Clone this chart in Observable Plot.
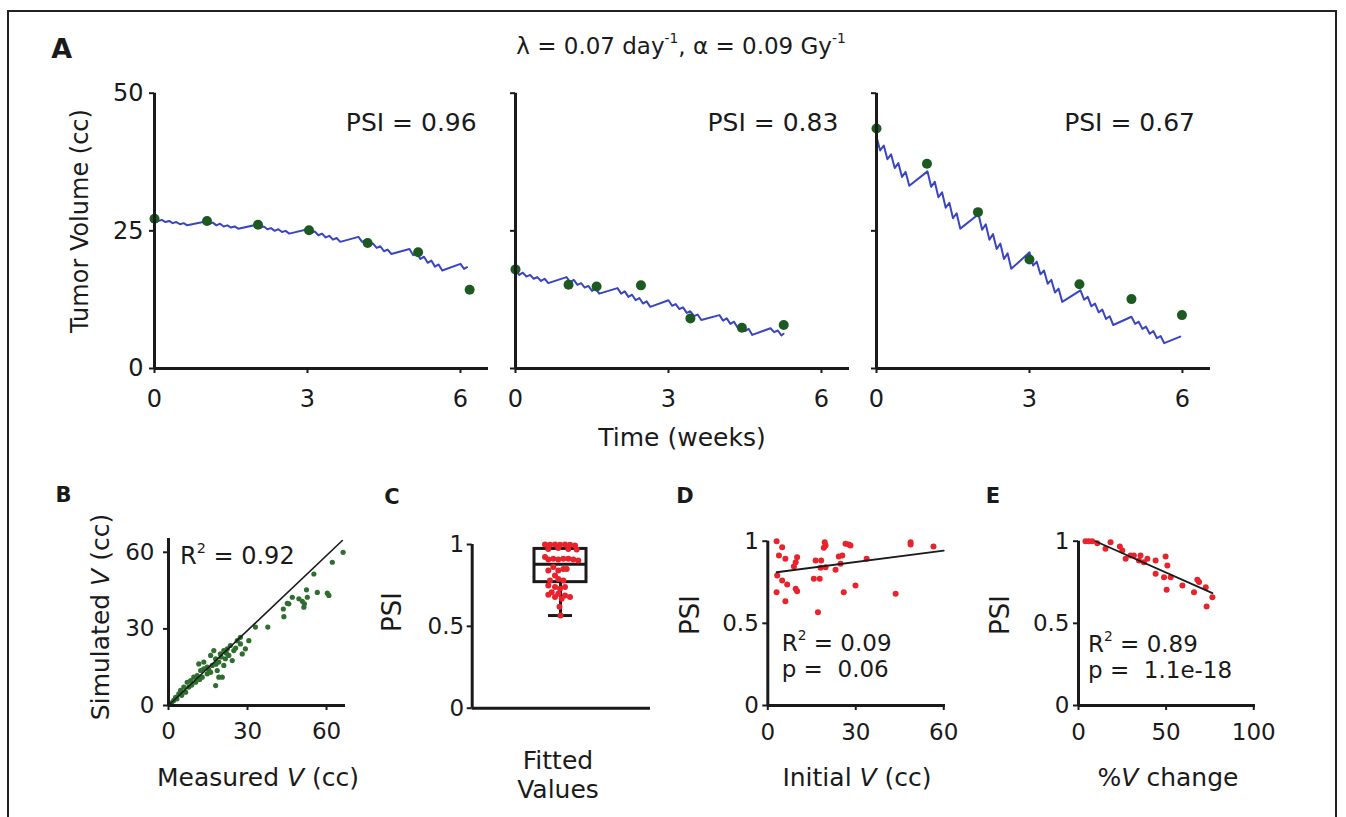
<!DOCTYPE html>
<html><head><meta charset="utf-8">
<script src="https://cdn.jsdelivr.net/npm/d3@7"></script>
<script src="https://cdn.jsdelivr.net/npm/@observablehq/plot@0.6"></script>
<style>
html,body{margin:0;padding:0;background:#fff;overflow:hidden;}
#fig{position:relative;width:1346px;height:817px;overflow:hidden;font-family:"DejaVu Sans",sans-serif;color:#1a1a1a;background:#fff;}
#fig svg{position:absolute;left:0;top:0;}
.lbl{position:absolute;white-space:nowrap;line-height:1;font-size:25px;}
.c{transform:translate(-50%,-50%);}
.l{transform:translate(0,-50%);}
.r{transform:translate(-100%,-50%);}
.rot{transform:translate(-50%,-50%) rotate(-90deg);}
.pl{font-weight:bold;font-size:21px;}
sup{font-size:0.6em;line-height:0;vertical-align:0.75em;}
#border{position:absolute;left:7px;top:10px;width:1326px;height:900px;border:2.5px solid #222;}
</style></head><body><div id="fig"><div id="border"></div></div>
<script>
// ---------- data ----------
const weekTicks = [0, 3, 6];
const volTicks = [0, 25, 50];
const psiTicks = [0, 0.5, 1];
const bTicks = [0, 30, 60];
const dTicks = [0, 30, 60];
const eTicks = [0, 50, 100];
const psiLabels = ["PSI = 0.96", "PSI = 0.83", "PSI = 0.67"];

// measured volumes [weeks, cc]
const a1Measured = [[0,27.2],[1.03,26.8],[2.03,26.1],[3.03,25.1],[4.18,22.8],[5.17,21.1],[6.18,14.3]];
const a2Measured = [[0,18.0],[1.04,15.2],[1.59,14.9],[2.46,15.1],[3.43,9.1],[4.44,7.4],[5.26,7.9]];
const a3Measured = [[0,43.6],[0.99,37.2],[1.99,28.4],[3.0,19.8],[3.98,15.3],[5.0,12.6],[5.99,9.7]];

// simulated volumes: [fraction day, volume before, volume after fraction]
const a1Sim = [
[0,27.2,26.8],[1,27.0,26.6],[2,26.8,26.4],[3,26.6,26.2],[4,26.4,26.0],
[7,26.7,26.3],[8,26.5,26.0],[9,26.3,25.8],[10,26.0,25.6],[11,25.8,25.4],
[14,26.1,25.6],[15,25.8,25.3],[16,25.5,25.0],[17,25.3,24.8],[18,25.0,24.5],
[21,25.3,24.6],[22,24.9,24.2],[23,24.5,23.8],[24,24.1,23.4],[25,23.7,23.0],
[28,23.9,23.0],[29,23.3,22.4],[30,22.7,21.9],[31,22.2,21.3],[32,21.6,20.8],
[35,21.7,20.6],[36,21.0,19.9],[37,20.3,19.2],[38,19.6,18.5],[39,18.9,17.8],
[42,19.0,18.1]];
const a1End = [42.9, 18.4];
const a2Sim = [
[0,17.8,17.0],[1,17.4,16.7],[2,17.0,16.3],[3,16.6,15.9],[4,16.3,15.5],
[7,16.6,15.7],[8,16.1,15.2],[9,15.5,14.7],[10,15.0,14.1],[11,14.5,13.6],
[14,14.6,13.6],[15,14.0,13.0],[16,13.4,12.4],[17,12.8,11.8],[18,12.2,11.2],
[21,12.4,11.4],[22,11.7,10.8],[23,11.1,10.1],[24,10.4,9.5],[25,9.8,8.8],
[28,9.7,8.7],[29,9.1,8.1],[30,8.5,7.4],[31,7.8,6.8],[32,7.2,6.1],
[35,7.3,6.6],[36,6.9,6.0]];
const a2End = [36.8, 6.3];
const a3Sim = [
[0,42.1,39.6],[1,40.5,38.0],[2,38.9,36.4],[3,37.3,34.8],[4,35.7,33.2],
[7,35.8,33.0],[8,33.9,31.1],[9,32.0,29.2],[10,30.1,27.3],[11,28.2,25.4],
[14,28.0,25.2],[15,26.2,23.4],[16,24.4,21.7],[17,22.7,19.9],[18,20.9,18.1],
[21,21.1,18.7],[22,19.4,17.1],[23,17.8,15.4],[24,16.1,13.8],[25,14.5,12.1],
[28,14.2,12.5],[29,13.0,11.3],[30,11.8,10.2],[31,10.7,9.0],[32,9.5,7.9],
[35,9.4,8.1],[36,8.5,7.2],[37,7.6,6.3],[38,6.8,5.5],[39,5.9,4.6]];
const a3End = [41.7, 5.8];

// B: [measured V, simulated V]
const bPoints = [[66.3,60.0],[62.2,56.1],[55.2,51.5],[52.4,45.3],[56.5,44.3],[60.3,44.0],[60.9,43.1],[47.0,42.4],[49.5,41.8],[50.8,40.8],[51.6,39.8],[45.1,40.0],[43.6,37.8],[43.8,34.8],[37.7,30.7],[33.0,30.7],[30.5,25.4],[27.3,24.1],[29.2,22.2],[28.0,20.2],[24.8,21.5],[23.5,23.5],[22.3,22.2],[21.0,21.5],[19.7,20.2],[22.9,19.6],[21.6,18.3],[19.1,17.0],[17.9,18.3],[24.2,17.6],[21.0,15.7],[16.6,15.7],[14.7,15.0],[13.4,14.4],[12.2,13.7],[16.0,13.0],[18.5,13.7],[19.1,11.1],[20.4,11.1],[17.9,7.8],[10.9,11.7],[9.6,11.1],[8.4,9.8],[7.1,9.1],[10.3,9.1],[5.8,7.2],[4.6,5.9],[3.9,4.6],[6.5,5.2],[2.7,3.2],[2.0,2.0],[7.7,7.2],[13.4,17.0],[16.0,19.6],[17.2,21.5],[27.3,26.7],[26.1,25.4],[12.8,11.1],[14.7,12.4],[11.5,16.3],[1.2,1.0],[3.2,2.6],[5.0,4.0],[8.8,8.0],[11.8,10.2],[15.3,14.0],[18.0,16.2],[20.0,19.0],[22.0,20.5],[25.5,22.5],[45.7,39.8],[52.7,42.4],[51.4,38.5]];
const bFit = [[0,0],[66,64.6]];

// C: fitted PSI values [jitter offset, PSI] and box summary
const cPoints = [[-15.5,1.0],[-10.5,0.998],[-5.5,1.0],[-0.5,0.998],[4.5,1.0],[9.5,0.998],[14.5,0.994],[-12.2,0.973],[-2.2,0.978],[7.8,0.973],[16.2,0.970],[-15.5,0.923],[-12.2,0.908],[-7.2,0.913],[-2.2,0.908],[2.8,0.913],[7.8,0.913],[12.8,0.908],[17.8,0.902],[-7.2,0.862],[2.8,0.851],[-12.2,0.841],[-2.2,0.841],[6.2,0.851],[-5.5,0.811],[-10.5,0.780],[-2.2,0.790],[2.8,0.780],[-12.2,0.750],[-5.5,0.740],[-0.5,0.729],[4.5,0.740],[-8.8,0.709],[-2.2,0.699],[4.5,0.689],[-12.2,0.693],[-5.5,0.679],[9.5,0.679],[1.2,0.668],[-1.0,0.62],[0,0.566]];
const cBox = {q1: 0.77, median: 0.88, q3: 0.973, low: 0.566};

// D: [initial V, PSI]
const dPoints = [[3.0,1.0],[4.9,0.963],[3.8,0.913],[6.0,0.893],[10.0,0.903],[9.5,0.872],[8.9,0.846],[3.2,0.791],[4.9,0.761],[6.6,0.736],[3.0,0.690],[9.5,0.710],[10.0,0.696],[6.0,0.635],[17.1,0.568],[16.3,0.883],[18.2,0.883],[18.0,0.838],[19.7,0.842],[15.7,0.771],[17.7,0.771],[19.4,0.994],[19.7,0.974],[19.1,0.960],[23.1,0.826],[24.2,0.907],[25.4,0.913],[24.8,0.862],[26.5,0.984],[27.6,0.980],[28.2,0.974],[25.9,0.690],[29.9,0.730],[33.7,0.893],[43.6,0.680],[48.7,0.994],[48.7,0.980],[56.5,0.968]];
const dFit = [[3,0.811],[60,0.943]];

// E: [% V change, PSI]
const ePoints = [[4.0,1.0],[5.9,1.0],[7.8,1.0],[10.7,0.988],[15.4,0.954],[18.3,0.994],[23.6,0.968],[25.0,0.943],[26.9,0.893],[31.6,0.913],[34.5,0.883],[35.4,0.913],[37.3,0.872],[39.3,0.893],[44.0,0.883],[44.0,0.802],[49.7,0.907],[50.7,0.852],[48.8,0.781],[52.6,0.781],[50.3,0.704],[59.3,0.730],[65.9,0.690],[67.8,0.765],[68.8,0.751],[72.6,0.720],[76.4,0.659],[73.1,0.603],[29.7,0.913]];
const eFit = [[9.7,1.0],[76.4,0.684]];

// ---------- drawing ----------
const W = 1346, H = 817;
const BLUE = "#3a45c2", DGREEN = "#1d5a22", GREEN = "#2f6e2f", RED = "#e8232b", INK = "#1a1a1a";
const fig = document.getElementById("fig");
const plain = d => String(d);
const none = () => "";

function frame({x0, x1, yb, yt, xDomain, yDomain, xTicks, yTicks, xFormat = plain, yFormat = plain, fontSize = 23, xPad = 8, yPad = 6, marks}) {
  const svg = Plot.plot({
    width: W, height: H,
    marginLeft: x0, marginRight: W - x1, marginTop: yt, marginBottom: H - yb,
    x: {domain: xDomain, axis: xTicks ? undefined : null},
    y: {domain: yDomain},
    style: {background: "transparent", fontFamily: "DejaVu Sans", overflow: "visible", color: INK},
    marks: [
      ...marks,
      xTicks ? Plot.axisX(xTicks, {tickSize: 5, tickPadding: xPad, strokeWidth: 2, fontSize, label: null, tickFormat: xFormat}) : null,
      yTicks ? Plot.axisY(yTicks, {tickSize: 5, tickPadding: yPad, strokeWidth: 2, fontSize, label: null, tickFormat: yFormat}) : null,
      Plot.ruleY([yDomain[0]], {stroke: INK, strokeWidth: 3}),
      Plot.ruleX([xDomain[0]], {stroke: INK, strokeWidth: 3})
    ]
  });
  fig.appendChild(svg);
}

// each fraction: value before dose at the fraction day, value after dose half a day later (simulation step)
function sawtooth(fr, end) {
  const pts = [];
  for (const [day, pre, post] of fr) pts.push({t: day / 7, v: pre}, {t: (day + 0.5) / 7, v: post});
  pts.push({t: end[0] / 7, v: end[1]});
  return pts;
}

const aPanels = [
  {x0: 154, x1: 488, sim: a1Sim, end: a1End, meas: a1Measured, yf: plain},
  {x0: 515, x1: 849, sim: a2Sim, end: a2End, meas: a2Measured, yf: none},
  {x0: 876, x1: 1210, sim: a3Sim, end: a3End, meas: a3Measured, yf: none}
];
for (const p of aPanels) {
  frame({x0: p.x0, x1: p.x1, yb: 368, yt: 92.7, xDomain: [0, 6.55], yDomain: [0, 50],
    xTicks: weekTicks, yTicks: volTicks, yFormat: p.yf, fontSize: 24, xPad: 16, yPad: 6,
    marks: [
      Plot.line(sawtooth(p.sim, p.end), {x: "t", y: "v", stroke: BLUE, strokeWidth: 2}),
      Plot.dot(p.meas, {x: d => d[0], y: d => d[1], r: 5, fill: DGREEN})
    ]});
}

// B
frame({x0: 168, x1: 345, yb: 705, yt: 538, xDomain: [0, 67.2], yDomain: [0, 65.4],
  xTicks: bTicks, yTicks: bTicks, xPad: 12, yPad: 9,
  marks: [
    Plot.dot(bPoints, {x: d => d[0], y: d => d[1], r: 2.6, fill: GREEN}),
    Plot.line(bFit, {x: d => d[0], y: d => d[1], stroke: INK, strokeWidth: 1.6})
  ]});

// C
frame({x0: 471.7, x1: 650, yb: 707.7, yt: 544, xDomain: [-88.3, 90], yDomain: [0, 1],
  xTicks: null, yTicks: psiTicks, yPad: 3,
  marks: [
    Plot.ruleX([cBox], {x: 0, y1: "low", y2: "q1", stroke: INK, strokeWidth: 3}),
    Plot.ruleY([cBox], {y: "low", x1: -12, x2: 12, stroke: INK, strokeWidth: 3}),
    Plot.rect([cBox], {x1: -26, x2: 26, y1: "q1", y2: "q3", fill: "none", stroke: INK, strokeWidth: 3}),
    Plot.ruleY([cBox], {y: "median", x1: -26, x2: 26, stroke: INK, strokeWidth: 3}),
    Plot.dot(cPoints, {x: d => d[0], y: d => d[1], r: 3, fill: RED})
  ]});

// D
frame({x0: 767.3, x1: 945, yb: 705, yt: 540.7, xDomain: [0, 60.6], yDomain: [0, 1],
  xTicks: dTicks, yTicks: psiTicks, xPad: 13, yPad: 4,
  marks: [
    Plot.dot(dPoints, {x: d => d[0], y: d => d[1], r: 3, fill: RED}),
    Plot.line(dFit, {x: d => d[0], y: d => d[1], stroke: INK, strokeWidth: 1.8})
  ]});

// E
frame({x0: 1078, x1: 1255, yb: 705, yt: 540.7, xDomain: [0, 101], yDomain: [0, 1],
  xTicks: eTicks, yTicks: psiTicks, xPad: 13, yPad: 4,
  marks: [
    Plot.dot(ePoints, {x: d => d[0], y: d => d[1], r: 3, fill: RED}),
    Plot.line(eFit, {x: d => d[0], y: d => d[1], stroke: INK, strokeWidth: 1.8})
  ]});

// ---------- text ----------
function label(html, x, y, cls, size) {
  const d = document.createElement("div");
  d.className = "lbl " + cls;
  d.style.left = x + "px"; d.style.top = y + "px";
  if (size) d.style.fontSize = size + "px";
  d.innerHTML = html;
  fig.appendChild(d);
}
label("A", 61.7, 48, "c pl", 27);
label("λ = 0.07 day<sup>-1</sup>, α = 0.09 Gy<sup>-1</sup>", 681, 46, "c", 23);
label("Tumor Volume (cc)", 80, 221, "rot", 24);
label("Time (weeks)", 682, 437, "c", 25);
label(psiLabels[0], 476.7, 122, "r", 25);
label(psiLabels[1], 838.3, 122, "r", 25);
label(psiLabels[2], 1195, 122, "r", 25);

label("B", 63.5, 495, "c pl", 21);
label("Simulated <i>V</i> (cc)", 100, 617, "rot", 25);
label("Measured <i>V</i> (cc)", 258, 777, "c", 25);
label("R<sup>2</sup> = 0.92", 180, 556, "l", 24);

label("C", 392, 497, "c pl", 21);
label("PSI", 391.7, 612, "rot", 26);
label("Fitted", 558, 760, "c", 25);
label("Values", 558, 789, "c", 25);

label("D", 685, 496, "c pl", 21);
label("PSI", 690, 615, "rot", 26);
label("R<sup>2</sup> = 0.09", 781.7, 643, "l", 23);
label("p = &nbsp;0.06", 781.7, 669, "l", 23);
label("Initial <i>V</i> (cc)", 857, 777, "c", 25);

label("E", 993, 496, "c pl", 21);
label("PSI", 1000, 615, "rot", 26);
label("R<sup>2</sup> = 0.89", 1088, 644, "l", 23);
label("p = &nbsp;1.1e-18", 1088, 670, "l", 23);
label("%<i>V</i> change", 1168, 777, "c", 25);
</script></body></html>
